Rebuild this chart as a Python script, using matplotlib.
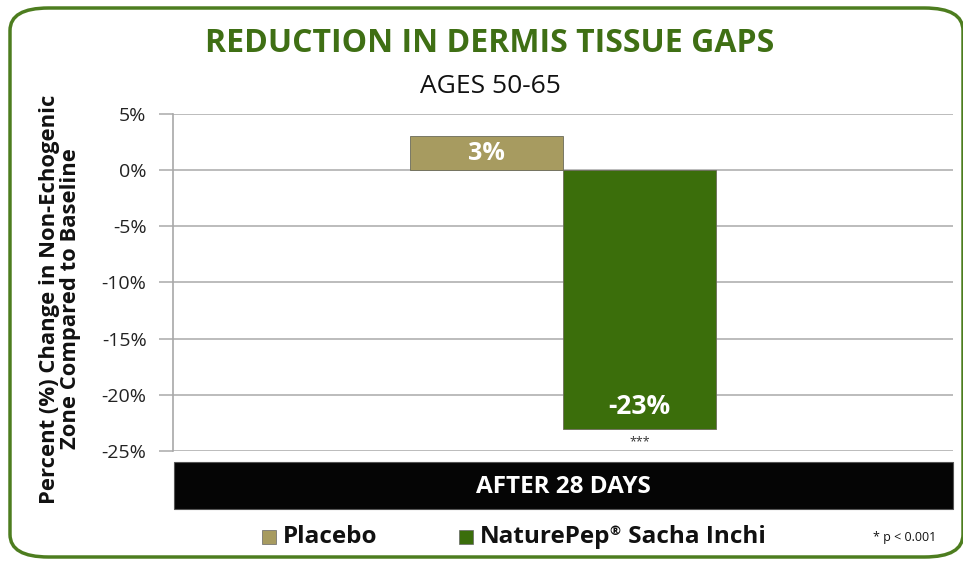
import matplotlib
matplotlib.use("Agg")
import matplotlib.pyplot as plt
from matplotlib.patches import FancyBboxPatch, Rectangle
import numpy as np

plt.rcParams['font.family'] = ['Open Sans', 'DejaVu Sans']

title = "REDUCTION IN DERMIS TISSUE GAPS"
subtitle = "AGES 50-65"
series = ["Placebo", "NaturePep\u00ae Sacha Inchi"]
values = [3, -23]
labels = ["3%", "-23%"]
colors = ["#a79b60", "#3b6e0b"]
category = "AFTER 28 DAYS"
yticks = [5, 0, -5, -10, -15, -20, -25]
ytick_labels = ["5%", "0%", "-5%", "-10%", "-15%", "-20%", "-25%"]
ylabel = "Percent (%) Change in Non-Echogenic\nZone Compared to Baseline"
sig = "***"
footnote = "* p < 0.001"

W, H = 963, 563
fig = plt.figure(figsize=(W / 100, H / 100), dpi=100)
fig.patch.set_facecolor("white")

# rounded green border
border = FancyBboxPatch((10 / W, 6 / H), 953 / W, 549 / H,
                        boxstyle="round,pad=0,rounding_size=0.04",
                        transform=fig.transFigure, fill=False,
                        edgecolor="#4d7d1f", linewidth=2.5, zorder=0)
fig.patches.append(border)

ax_l, ax_r = 173, 953
ax_t, ax_b = 114, 451
ax = fig.add_axes([ax_l / W, 1 - ax_b / H, (ax_r - ax_l) / W, (ax_b - ax_t) / H])
ax.set_xlim(-0.5, 0.5)
ax.set_ylim(-25, 5)

bw = 153 / (ax_r - ax_l)
offsets = [-bw / 2, bw / 2]
for i, (v, c, lab) in enumerate(zip(values, colors, labels)):
    ax.bar(offsets[i], v, width=bw, color=c, edgecolor="#6b6b5a", linewidth=0.6, zorder=3)
    if v > 0:
        ax.text(offsets[i], v / 2, lab, ha="center", va="center", color="white",
                fontsize=18, fontweight="bold", zorder=4)
    else:
        ax.text(offsets[i], v + 2.0, lab, ha="center", va="center", color="white",
                fontsize=19, fontweight="bold", zorder=4)
ax.text(offsets[1], values[1] - 1.2, sig, ha="center", va="center", fontsize=9, color="#333333")

ax.set_yticks(yticks)
ax.set_yticklabels(ytick_labels, fontsize=14, color="#222222")
ax.yaxis.grid(True, color="#b0b0b0", linewidth=1.2, zorder=0)
ax.set_xticks([])
for s in ["top", "right", "bottom"]:
    ax.spines[s].set_visible(False)
ax.spines["left"].set_color("#a8a8a8")
ax.spines["left"].set_linewidth(1.2)
ax.tick_params(axis="y", length=10, color="#b0b0b0", width=1.2, pad=9)

# y-axis title
fig.text(60 / W, 1 - 299 / H, ylabel, rotation=90, ha="center", va="center",
         multialignment="center", fontsize=15.8, fontweight="bold",
         linespacing=1.05, color="#111111")

# black category banner
banner = FancyBboxPatch((174 / W, 1 - 509 / H), 779 / W, 47 / H,
                        boxstyle="square,pad=0", transform=fig.transFigure,
                        facecolor="#050505", edgecolor="#555555", linewidth=0.8)
fig.patches.append(banner)
fig.text(563 / W, 1 - 487 / H, category, ha="center", va="center", color="white",
         fontsize=17.5, fontweight="bold")

# titles
fig.text(490 / W, 1 - 44 / H, title, ha="center", va="center", color="#3f6f14",
         fontsize=23, fontweight="bold")
fig.text(490 / W, 1 - 86 / H, subtitle, ha="center", va="center", color="#111111",
         fontsize=19)

# legend
leg_y = 1 - 537 / H
fig.patches.append(Rectangle((262 / W, leg_y - 7 / H), 14 / W, 14 / H,
                             transform=fig.transFigure, facecolor=colors[0],
                             edgecolor="#666666", linewidth=0.5))
fig.text(283 / W, leg_y, series[0], ha="left", va="center", fontsize=17.5,
         fontweight="bold", color="#111111")
fig.patches.append(Rectangle((459 / W, leg_y - 7 / H), 14 / W, 14 / H,
                             transform=fig.transFigure, facecolor=colors[1],
                             edgecolor="#666666", linewidth=0.5))
name_main, name_rest = series[1].split("\u00ae")
t1 = fig.text(480 / W, leg_y, name_main, ha="left", va="center", fontsize=17.5,
              fontweight="bold", color="#111111")
fig.canvas.draw()
bb1 = t1.get_window_extent()
t2 = fig.text((bb1.x1 - 1) / W, (bb1.y1 - 13) / H, "\u00ae", ha="left", va="bottom",
              fontsize=9.5, fontweight="bold", color="#111111")
fig.canvas.draw()
bb2 = t2.get_window_extent()
fig.text((bb2.x1 + 1) / W, leg_y, name_rest, ha="left", va="center", fontsize=17.5,
         fontweight="bold", color="#111111")
fig.text(905 / W, leg_y, footnote, ha="center", va="center", fontsize=9, color="#111111")

fig.savefig("out.png", dpi=100)
